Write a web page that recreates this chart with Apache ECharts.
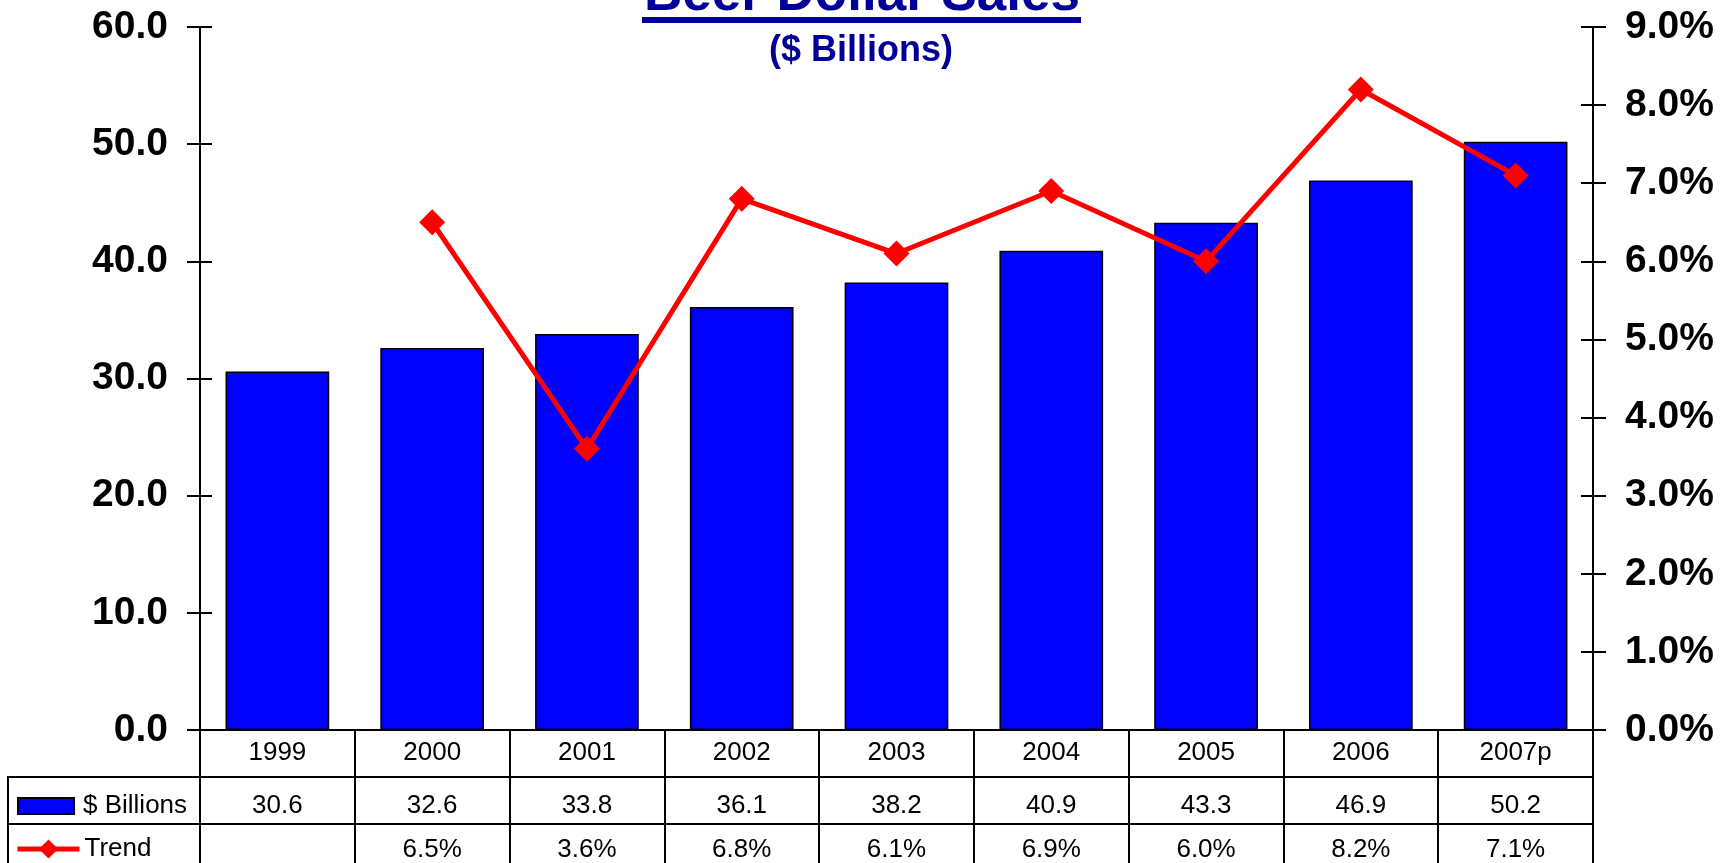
<!DOCTYPE html>
<html>
<head>
<meta charset="utf-8">
<title>Beer Dollar Sales</title>
<script src="https://cdn.jsdelivr.net/npm/echarts@6/dist/echarts.min.js"></script>
<style>
  html, body { margin: 0; padding: 0; background: #ffffff; }
  #chart { width: 1732px; height: 863px; }
</style>
</head>
<body>
<div id="chart"></div>
<script>
// Annual beer dollar sales and year-over-year growth
const years = ['1999', '2000', '2001', '2002', '2003', '2004', '2005', '2006', '2007p'];
const billions = [30.6, 32.6, 33.8, 36.1, 38.2, 40.9, 43.3, 46.9, 50.2];
const trend = [null, 6.5, 3.6, 6.8, 6.1, 6.9, 6.0, 8.2, 7.1];
const leftTicks = { min: 0, max: 60, interval: 10 };
const rightTicks = { min: 0, max: 9, interval: 1 };

const FONT = '"Liberation Sans", Arial, sans-serif';
const BLUE = '#0000FF';
const RED = '#FF0000';
const NAVY = '#000099';
const ROW_H = 47;

const chart = echarts.init(document.getElementById('chart'), null, { renderer: 'canvas' });

// Category axis rows that double as the data table under the plot
function tableAxis(offset, margin, fmt) {
  return {
    type: 'category',
    data: years,
    position: 'bottom',
    offset: offset,
    boundaryGap: true,
    axisLine: { show: true, onZero: false, lineStyle: { color: '#000', width: 2 } },
    axisTick: { show: true, inside: false, length: ROW_H, alignWithLabel: false,
                lineStyle: { color: '#000', width: 2 } },
    axisLabel: { show: true, interval: 0, margin: margin, fontSize: 26, color: '#000',
                 fontFamily: FONT, formatter: fmt },
    splitLine: { show: false }
  };
}

function valueAxis(pos, ticks, opts) {
  return Object.assign({
    type: 'value',
    position: pos,
    min: ticks.min,
    max: ticks.max,
    interval: ticks.interval,
    splitLine: { show: false },
    axisLine: { show: true, lineStyle: { color: '#000', width: 2 } },
    axisTick: { show: true, inside: false, length: 13, lineStyle: { color: '#000', width: 2 } }
  }, opts);
}

const option = {
  backgroundColor: '#ffffff',
  animation: false,
  textStyle: { fontFamily: FONT },
  grid: { left: 200, right: 139, top: 27, bottom: 133, containLabel: false },
  legend: [
    {
      data: [{ name: '$ Billions', icon: 'rect' }],
      left: 17, top: 793, padding: 0,
      itemWidth: 56, itemHeight: 16, itemGap: 0,
      textStyle: { fontSize: 26, color: '#000', fontFamily: FONT, padding: [0, 0, 0, 4] },
      selectedMode: false
    },
    {
      data: ['Trend'],
      left: 15, top: 836, padding: 0,
      itemWidth: 62, itemHeight: 24, itemGap: 0,
      lineStyle: { width: 5, color: RED },
      textStyle: { fontSize: 26, color: '#000', fontFamily: FONT, padding: [0, 0, 0, 0] },
      selectedMode: false
    }
  ],
  xAxis: [
    tableAxis(0, 10, (v) => v),
    tableAxis(ROW_H, 16, (v, i) => billions[i].toFixed(1)),
    tableAxis(ROW_H * 2, 13, (v, i) => (trend[i] == null ? '' : trend[i].toFixed(1) + '%'))
  ],
  yAxis: [
    valueAxis('left', leftTicks, {
      axisLabel: { margin: 32, fontSize: 39, fontWeight: 'bold', color: '#000', fontFamily: FONT,
                   formatter: (v) => v.toFixed(1) }
    }),
    valueAxis('right', rightTicks, {
      axisLabel: { margin: 32, fontSize: 39, fontWeight: 'bold', color: '#000', fontFamily: FONT,
                   formatter: (v) => v.toFixed(1) + '%' }
    }),
    // inner halves of the cross-style tick marks
    valueAxis('left', leftTicks, {
      axisLine: { show: false },
      axisLabel: { show: false },
      axisTick: { show: true, inside: true, length: 12, lineStyle: { color: '#000', width: 2 } }
    }),
    valueAxis('right', rightTicks, {
      axisLine: { show: false },
      axisLabel: { show: false },
      axisTick: { show: true, inside: true, length: 12, lineStyle: { color: '#000', width: 2 } }
    })
  ],
  series: [
    {
      name: '$ Billions',
      type: 'bar',
      xAxisIndex: 0,
      yAxisIndex: 0,
      data: billions,
      barWidth: '67%',
      itemStyle: { color: BLUE, borderColor: '#000', borderWidth: 1.5 },
      z: 2
    },
    {
      name: 'Trend',
      type: 'line',
      xAxisIndex: 0,
      yAxisIndex: 1,
      data: trend,
      symbol: 'diamond',
      symbolSize: 26,
      showSymbol: true,
      lineStyle: { color: RED, width: 5 },
      itemStyle: { color: RED },
      z: 3
    }
  ],
  graphic: [
    // title, underline and subtitle
    {
      type: 'text', x: 862, y: -5,
      style: { text: 'Beer Dollar Sales', fill: NAVY, font: 'bold 53px ' + FONT,
               textAlign: 'center', textVerticalAlign: 'middle' }
    },
    { type: 'rect', shape: { x: 642, y: 17, width: 439, height: 6 }, style: { fill: NAVY } },
    {
      type: 'text', x: 861, y: 51.5,
      style: { text: '($ Billions)', fill: NAVY, font: 'bold 36px ' + FONT,
               textAlign: 'center', textVerticalAlign: 'middle' }
    },
    // left column of the data table (series key)
    { type: 'line', shape: { x1: 8, y1: 777, x2: 200, y2: 777 }, style: { stroke: '#000', lineWidth: 2 } },
    { type: 'line', shape: { x1: 8, y1: 824, x2: 200, y2: 824 }, style: { stroke: '#000', lineWidth: 2 } },
    { type: 'line', shape: { x1: 8, y1: 776, x2: 8, y2: 863 }, style: { stroke: '#000', lineWidth: 2 } }
  ]
};

chart.setOption(option);
</script>
</body>
</html>
